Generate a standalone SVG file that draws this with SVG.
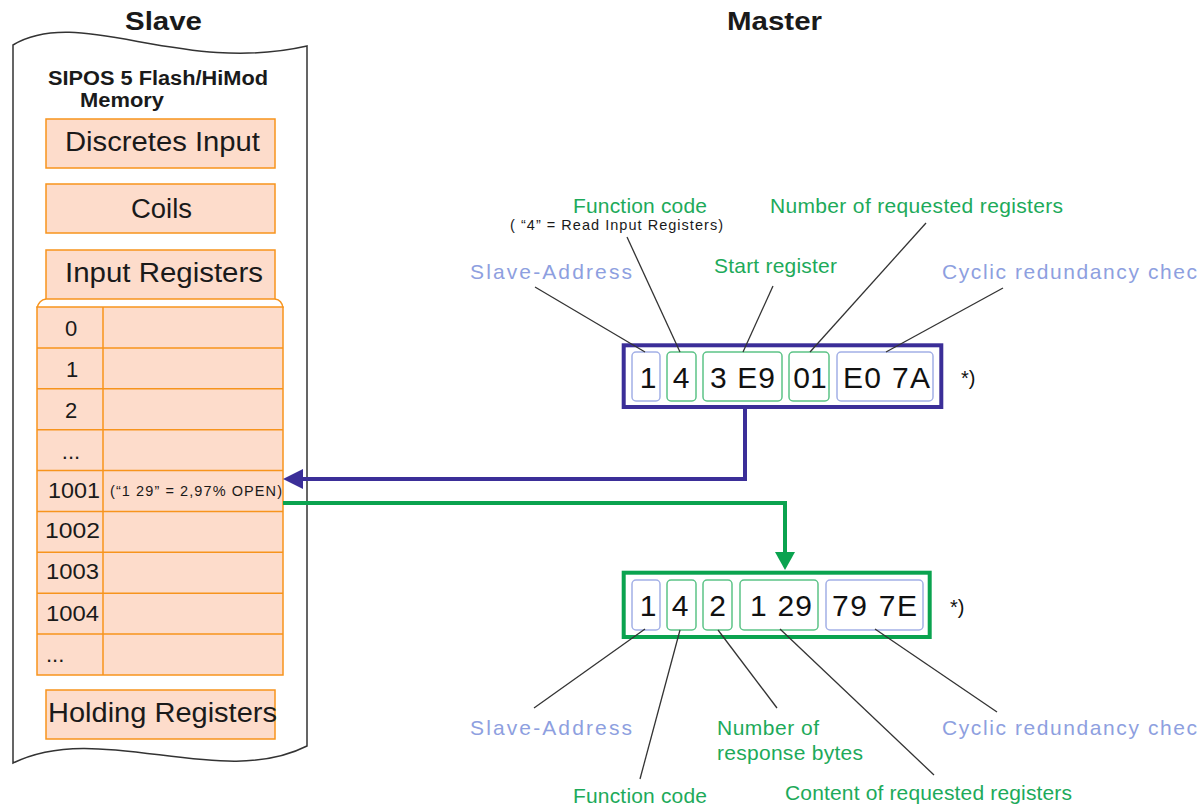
<svg xmlns="http://www.w3.org/2000/svg" width="1201" height="807" viewBox="0 0 1201 807">
<style>
text{font-family:"Liberation Sans",Arial,sans-serif;}
.hdr{font-size:25px;font-weight:bold;fill:#1a1a1a;}
.mem{font-size:20px;font-weight:bold;fill:#1a1a1a;}
.obox{fill:#FDDCCB;stroke:#F7941D;stroke-width:1.5;}
.big{font-size:27px;fill:#1a1a1a;}
.row{font-size:22px;fill:#1a1a1a;}
.grid{stroke:#F7941D;stroke-width:1.5;fill:none;}
.ib{fill:#fff;stroke:#A3B0E6;stroke-width:1.5;}
.ig{fill:#fff;stroke:#5CC387;stroke-width:1.5;}
.dig{font-size:30px;fill:#111;}
.gl{font-size:21px;fill:#1DAA5A;}
.bl{font-size:21px;fill:#8E9FE0;}
.lead{stroke:#333;stroke-width:1.3;fill:none;}
.star{font-size:20px;fill:#111;}
.sm{font-size:14.5px;fill:#1a1a1a;}
</style>
<defs>
<marker id="ahB" markerUnits="userSpaceOnUse" markerWidth="20" markerHeight="20" refX="13" refY="10" orient="auto"><path d="M0,0 L20,10 L0,20 Z" fill="#3B2E98"/></marker>
<marker id="ahG" markerUnits="userSpaceOnUse" markerWidth="19" markerHeight="20" refX="12" refY="10" orient="auto"><path d="M0,0 L18,10 L0,20 Z" fill="#0AA34F"/></marker>
</defs>
<rect width="1201" height="807" fill="#fff"/>

<g id="slave">
<path d="M13,45 C80,5 180,75 307,46 L307,746 C220,790 100,720 13,763 Z" fill="#fff" stroke="#333" stroke-width="1.5"/>
<text class="hdr" x="125" y="30" textLength="77" lengthAdjust="spacingAndGlyphs">Slave</text>
<text class="mem" x="48" y="85" textLength="220" lengthAdjust="spacingAndGlyphs">SIPOS 5 Flash/HiMod</text>
<text class="mem" x="80" y="107" textLength="84" lengthAdjust="spacingAndGlyphs">Memory</text>
</g>

<g id="master-title">
<text class="hdr" x="727" y="30" textLength="95" lengthAdjust="spacingAndGlyphs">Master</text>
</g>

<g id="discretes-input">
<rect class="obox" x="46" y="119" width="229" height="49"/>
<text class="big" x="65" y="151" textLength="195" lengthAdjust="spacingAndGlyphs">Discretes Input</text>
</g>
<g id="coils">
<rect class="obox" x="46" y="184" width="229" height="49"/>
<text class="big" x="131" y="218" textLength="61" lengthAdjust="spacingAndGlyphs">Coils</text>
</g>
<g id="input-registers">
<rect class="obox" x="46" y="250" width="229" height="49"/>
<text class="big" x="65" y="282" textLength="198" lengthAdjust="spacingAndGlyphs">Input Registers</text>
</g>

<g id="register-table">
<path class="grid" d="M37,308 Q39,300 46,299 M275,299 Q282,300 283,308"/>
<rect class="obox" x="37" y="307" width="246" height="368"/>
<path class="grid" d="M103,307 V675 M37,347.9 H283 M37,388.8 H283 M37,429.7 H283 M37,470.6 H283 M37,511.4 H283 M37,552.3 H283 M37,593.2 H283 M37,634.1 H283"/>
<text class="row" x="71" y="336" text-anchor="middle">0</text>
<text class="row" x="72" y="377" text-anchor="middle">1</text>
<text class="row" x="71" y="418" text-anchor="middle">2</text>
<text class="row" x="71" y="459" text-anchor="middle">...</text>
<text class="row" x="48" y="498" textLength="52" lengthAdjust="spacingAndGlyphs">1001</text>
<text class="sm" x="110" y="496" textLength="172">(“1 29” = 2,97% OPEN)</text>
<text class="row" x="45" y="538" textLength="55" lengthAdjust="spacingAndGlyphs">1002</text>
<text class="row" x="46" y="579" textLength="53" lengthAdjust="spacingAndGlyphs">1003</text>
<text class="row" x="46" y="621" textLength="53" lengthAdjust="spacingAndGlyphs">1004</text>
<text class="row" x="46" y="662">...</text>
</g>

<g id="holding-registers">
<rect class="obox" x="46" y="690" width="229" height="49"/>
<text class="big" x="48" y="722" textLength="229" lengthAdjust="spacingAndGlyphs">Holding Registers</text>
</g>

<g id="request-frame">
<rect x="623.7" y="345.3" width="317.6" height="61.7" fill="#fff" stroke="#3B2E98" stroke-width="4"/>
<rect class="ib" x="632" y="352" width="28" height="49" rx="4"/>
<rect class="ig" x="667" y="352" width="29" height="49" rx="4"/>
<rect class="ig" x="703" y="352" width="79" height="49" rx="4"/>
<rect class="ig" x="789" y="352" width="40" height="49" rx="4"/>
<rect class="ib" x="837" y="352" width="96" height="49" rx="4"/>
<text class="dig" x="648" y="388" text-anchor="middle">1</text>
<text class="dig" x="681" y="388" text-anchor="middle">4</text>
<text class="dig" x="710" y="388" textLength="65">3 E9</text>
<text class="dig" x="810" y="388" text-anchor="middle">01</text>
<text class="dig" x="843" y="388" textLength="87">E0 7A</text>
<text class="star" x="961" y="385">*)</text>
</g>

<g id="response-frame">
<rect x="623.7" y="572.7" width="306" height="64.3" fill="#fff" stroke="#0AA34F" stroke-width="4"/>
<rect class="ib" x="632" y="580" width="28" height="50" rx="4"/>
<rect class="ig" x="667" y="580" width="29" height="50" rx="4"/>
<rect class="ig" x="703" y="580" width="29" height="50" rx="4"/>
<rect class="ig" x="740" y="580" width="78" height="50" rx="4"/>
<rect class="ib" x="826" y="580" width="97" height="50" rx="4"/>
<text class="dig" x="648" y="616" text-anchor="middle">1</text>
<text class="dig" x="680" y="616" text-anchor="middle">4</text>
<text class="dig" x="717.5" y="616" text-anchor="middle">2</text>
<text class="dig" x="750" y="616" textLength="62">1 29</text>
<text class="dig" x="832" y="616" textLength="85">79 7E</text>
<text class="star" x="950" y="614">*)</text>
</g>

<g id="request-labels">
<text class="gl" x="573" y="213" textLength="134">Function code</text>
<text class="sm" x="510" y="230" textLength="213">( “4” = Read Input Registers)</text>
<text class="gl" x="770" y="213" textLength="293">Number of requested registers</text>
<text class="bl" x="470" y="279" textLength="162">Slave-Address</text>
<text class="gl" x="714" y="273" textLength="123">Start register</text>
<text class="bl" x="942" y="279" textLength="255">Cyclic redundancy chec</text>
</g>

<g id="response-labels">
<text class="bl" x="470" y="735" textLength="162">Slave-Address</text>
<text class="gl" x="717" y="735" textLength="102">Number of</text>
<text class="gl" x="717" y="760" textLength="146">response bytes</text>
<text class="bl" x="942" y="735" textLength="255">Cyclic redundancy chec</text>
<text class="gl" x="573" y="803" textLength="134">Function code</text>
<text class="gl" x="785" y="800" textLength="287">Content of requested registers</text>
</g>

<g id="connectors">
<path class="lead" d="M535,287 L645,352"/>
<path class="lead" d="M627,237 L680,352"/>
<path class="lead" d="M773,286 L743,352"/>
<path class="lead" d="M926,223 L810,352"/>
<path class="lead" d="M1003,288 L886,352"/>
<path class="lead" d="M645,629 L534,708"/>
<path class="lead" d="M680,630 L640,779"/>
<path class="lead" d="M718,630 L777,708"/>
<path class="lead" d="M780,629 L934,775"/>
<path class="lead" d="M875,629 L997,712"/>
<path d="M745,409 V479 H290" fill="none" stroke="#3B2E98" stroke-width="4" marker-end="url(#ahB)"/>
<path d="M283,503 H785 V564" fill="none" stroke="#0AA34F" stroke-width="4" marker-end="url(#ahG)"/>
</g>
</svg>
